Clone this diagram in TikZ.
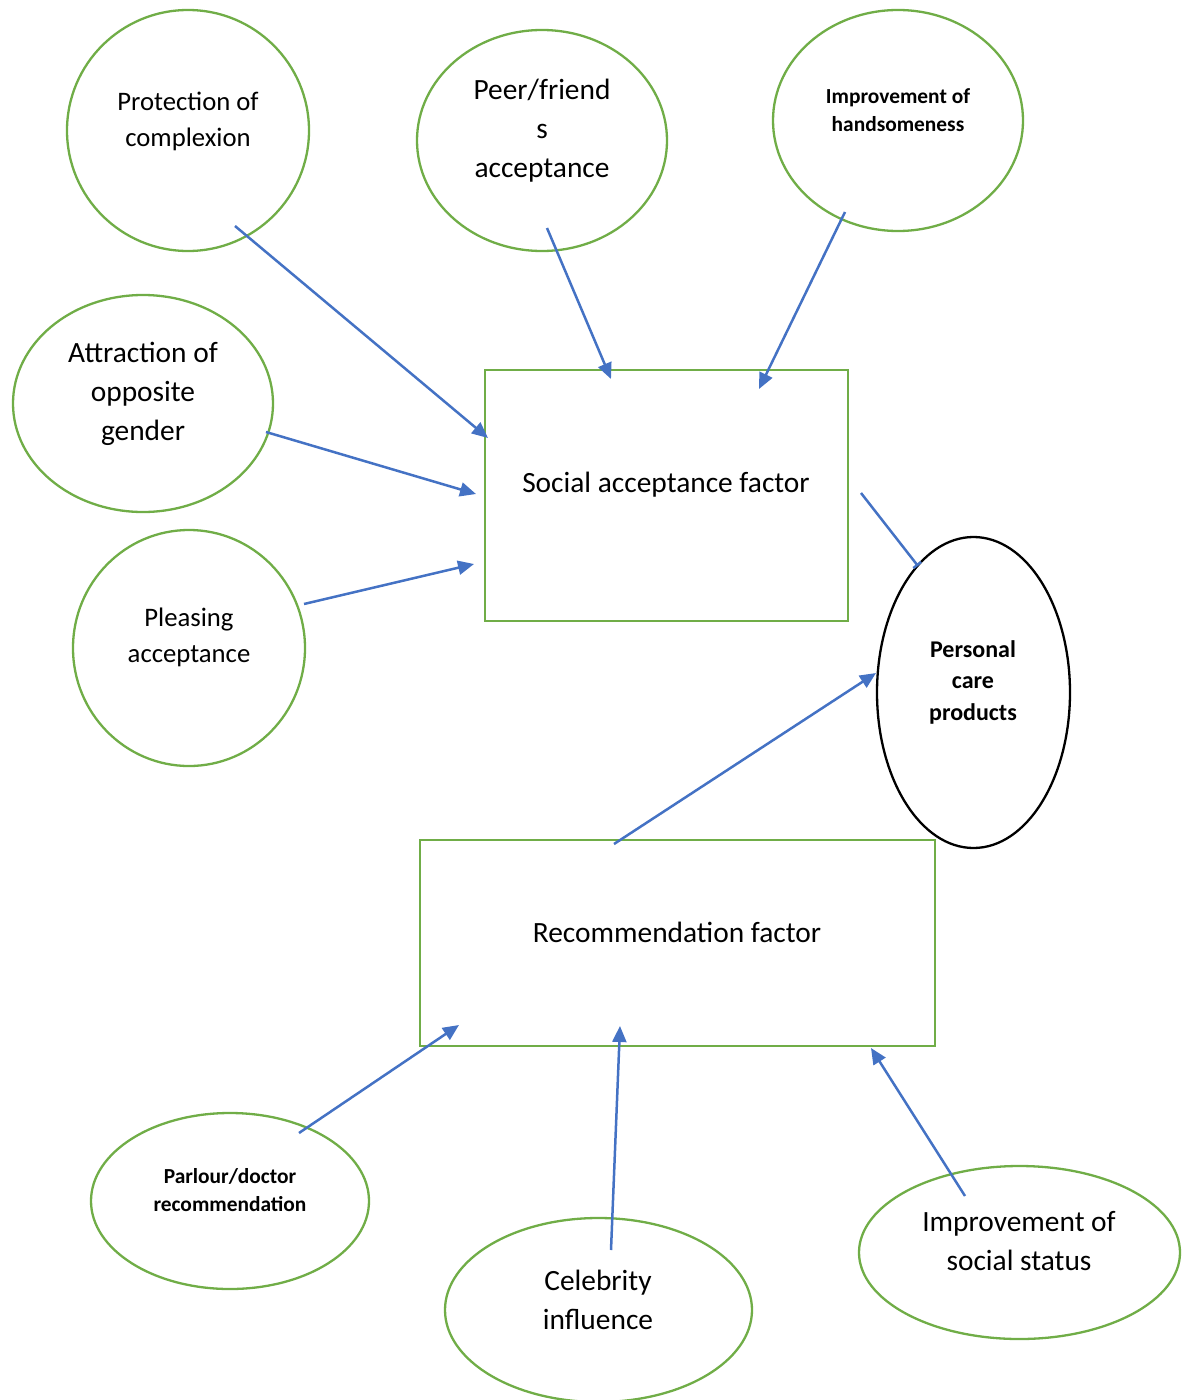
\documentclass[tikz,border=0pt]{standalone}
\usepackage{fontspec}
\setmainfont{Carlito}
\usetikzlibrary{shapes.geometric,arrows.meta}
\definecolor{wgreen}{HTML}{70AD47}
\definecolor{wblue}{HTML}{4472C4}
\tikzset{
  ell/.style={draw=wgreen, line width=2.3pt, ellipse, inner sep=0pt},
  blk/.style={draw=black, line width=2.3pt, ellipse, inner sep=0pt},
  box/.style={draw=wgreen, line width=2.8pt, rectangle, inner sep=0pt},
  txt/.style={align=center, inner sep=0pt, text=black},
  big/.style={font=\fontsize{29.4}{39}\selectfont},
  mid/.style={font=\fontsize{26.7}{36}\selectfont},
  sml/.style={font=\bfseries\fontsize{21.4}{28.5}\selectfont},
  arr/.style={draw=wblue, line width=2.5pt, -{Triangle[width=14pt,length=16pt]}},
  barr/.style={draw=wblue, line width=2.5pt, -{Bar[width=10pt,line width=2.5pt]}}
}
\begin{document}
\begin{tikzpicture}[x=1pt,y=-1pt]
\useasboundingbox (0,0) rectangle (1184,1400);
\clip (0,0) rectangle (1184,1400);
% boxes
\node[box, minimum width=363pt, minimum height=251pt] (sa) at (666.5,495.5) {};
\node[txt, big] (satxt) at (666,485) {Social acceptance factor};
\node[box, minimum width=515pt, minimum height=206pt] (rf) at (677.5,943) {};
\node[txt, big] (rftxt) at (677,932) {Recommendation factor};
% ellipses
\node[ell, minimum width=242pt, minimum height=241pt] (prot) at (188,130.5) {};
\node[txt, mid] (prottxt) at (188,121) {Protection of\\complexion};
\node[ell, minimum width=250pt, minimum height=221pt] (peer) at (542,140.5) {};
\node[txt, big] (peertxt) at (542,131) {Peer/friend\\s\\acceptance};
\node[ell, minimum width=250pt, minimum height=221pt] (hand) at (898,120.5) {};
\node[txt, sml] (handtxt) at (898,110) {Improvement of\\handsomeness};
\node[ell, minimum width=260pt, minimum height=217pt] (attr) at (143,403.5) {};
\node[txt, big] (attrtxt) at (143,394) {Attraction of\\opposite\\gender};
\node[ell, minimum width=232pt, minimum height=236pt] (plea) at (189,648) {};
\node[txt, mid] (pleatxt) at (189,637) {Pleasing\\acceptance};
\node[blk, minimum width=193pt, minimum height=311pt] (pcp) at (973.5,692.5) {};
\node[txt, font=\bfseries\fontsize{24}{31.5}\selectfont] (pcptxt) at (973,682) {Personal\\care\\products};
\node[ell, minimum width=278pt, minimum height=176pt] (parl) at (230,1201) {};
\node[txt, sml] (parltxt) at (230,1190) {Parlour/doctor\\recommendation};
\node[ell, minimum width=307pt, minimum height=184pt] (celeb) at (598.5,1310) {};
\node[txt, big] (celebtxt) at (598,1300) {Celebrity\\influence};
\node[ell, minimum width=321pt, minimum height=173pt] (soc) at (1019.5,1252.5) {};
\node[txt, big] (soctxt) at (1019,1241) {Improvement of\\social status};
% connector end points
\coordinate (p1) at (235,226);  \coordinate (q1) at (488,438);
\coordinate (p2) at (547,228);  \coordinate (q2) at (611,379);
\coordinate (p3) at (845,212);  \coordinate (q3) at (759,389);
\coordinate (p4) at (266,432);  \coordinate (q4) at (476,494);
\coordinate (p5) at (304,604);  \coordinate (q5) at (474,564);
\coordinate (p6) at (861,493);  \coordinate (q6) at (918,566);
\coordinate (p7) at (614,844);  \coordinate (q7) at (876,673);
\coordinate (p8) at (299,1133); \coordinate (q8) at (459,1025);
\coordinate (p9) at (611,1250); \coordinate (q9) at (620,1026);
\coordinate (p10) at (965,1196); \coordinate (q10) at (871,1048);
% connectors
\draw[arr] (p1) -- (q1);
\draw[arr] (p2) -- (q2);
\draw[arr] (p3) -- (q3);
\draw[arr] (p4) -- (q4);
\draw[arr] (p5) -- (q5);
\draw[barr] (p6) -- (q6);
\draw[arr] (p7) -- (q7);
\draw[arr] (p8) -- (q8);
\draw[arr] (p9) -- (q9);
\draw[arr] (p10) -- (q10);
\end{tikzpicture}
\end{document}
